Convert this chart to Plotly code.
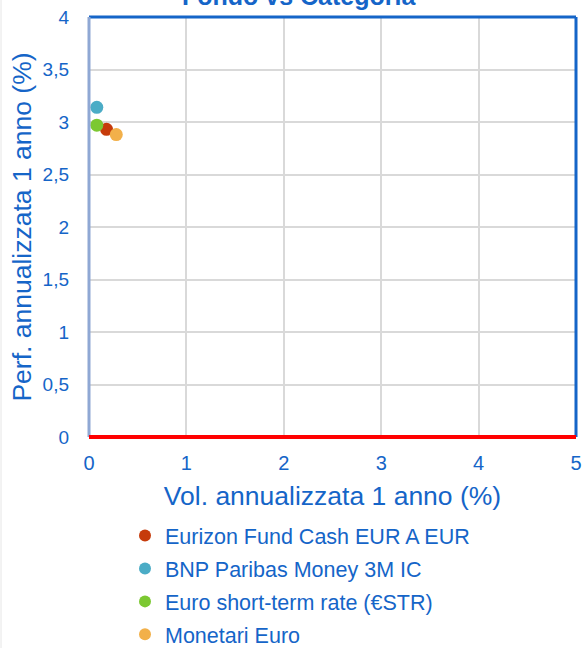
import plotly.graph_objects as go

# Data
series_names = ["Eurizon Fund Cash EUR A EUR", "BNP Paribas Money 3M IC",
                "Euro short-term rate (€STR)", "Monetari Euro"]
volatility = [0.18, 0.08, 0.08, 0.28]
performance = [2.93, 3.14, 2.97, 2.88]
colors = ["#C63B0B", "#4BACC6", "#7CC832", "#F2B04A"]

title_text = "Fondo vs Categoria"
x_title = "Vol. annualizzata 1 anno (%)"
y_title = "Perf. annualizzata 1 anno (%)"

BLUE = "#1565C8"
FONT = "Arial, Liberation Sans, sans-serif"

fig = go.Figure()
for i, name in enumerate(series_names):
    fig.add_trace(go.Scatter(
        x=[volatility[i]], y=[performance[i]], mode="markers", name=name,
        marker=dict(size=13, color=colors[i]), legendgroup=str(i),
        cliponaxis=False,
    ))

fig.update_layout(
    width=584, height=648,
    margin=dict(l=89, r=8, t=17, b=211, autoexpand=False),
    paper_bgcolor="white", plot_bgcolor="white",
    separators=",.",
    font=dict(family=FONT, color=BLUE),
    showlegend=True,
    legend=dict(
        orientation="v", x=(125 - 89) / 487, xanchor="left",
        y=-(515 - 437) / 420, yanchor="top",
        font=dict(size=21.5, color=BLUE, family=FONT),
        tracegroupgap=2, itemsizing="constant",
        bgcolor="rgba(0,0,0,0)",
    ),
    xaxis=dict(
        range=[0, 5], dtick=1, tick0=0, showgrid=True, gridcolor="#D9D9D9",
        gridwidth=2, zeroline=False, showline=False, automargin=False,
        tickfont=dict(size=20, color=BLUE), ticklabelstandoff=12,
        title=dict(text=x_title, font=dict(size=26.5, color=BLUE), standoff=13),
        fixedrange=True,
    ),
    yaxis=dict(
        range=[0, 4], dtick=0.5, tick0=0, showgrid=True, gridcolor="#D9D9D9",
        gridwidth=2, zeroline=False, showline=False, automargin=False,
        tickfont=dict(size=19, color=BLUE), ticklabelstandoff=19,
        title=dict(text=y_title, font=dict(size=26.5, color=BLUE), standoff=3),
        fixedrange=True,
    ),
    annotations=[dict(
        text="<b>" + title_text + "</b>", xref="paper", yref="paper",
        x=(298.5 - 89) / 487, y=1, xanchor="center", yanchor="middle",
        yshift=20.7, showarrow=False, font=dict(size=25, color=BLUE, family=FONT),
    )],
    shapes=[
        dict(type="line", xref="x domain", yref="y domain", x0=0, x1=1, y0=1, y1=1,
             line=dict(color=BLUE, width=3), layer="above"),
        dict(type="line", xref="x domain", yref="y domain", x0=1, x1=1, y0=0, y1=1,
             line=dict(color=BLUE, width=3), layer="above"),
        dict(type="line", xref="x domain", yref="y domain", x0=0, x1=0, y0=0, y1=1,
             line=dict(color="#8FA8D4", width=3), layer="above"),
        dict(type="line", xref="x domain", yref="y domain", x0=0, x1=1, y0=0, y1=0,
             line=dict(color="#FF0000", width=4), layer="above"),
        dict(type="line", xref="paper", yref="paper",
             x0=-(89 - 1) / 487, x1=-(89 - 1) / 487, y0=-211 / 420, y1=1 + 17 / 420,
             line=dict(color="#E6E6E6", width=1)),
    ],
)

fig.write_html("out.html", config={"displayModeBar": False},
               post_script="document.body.style.margin='0';")
